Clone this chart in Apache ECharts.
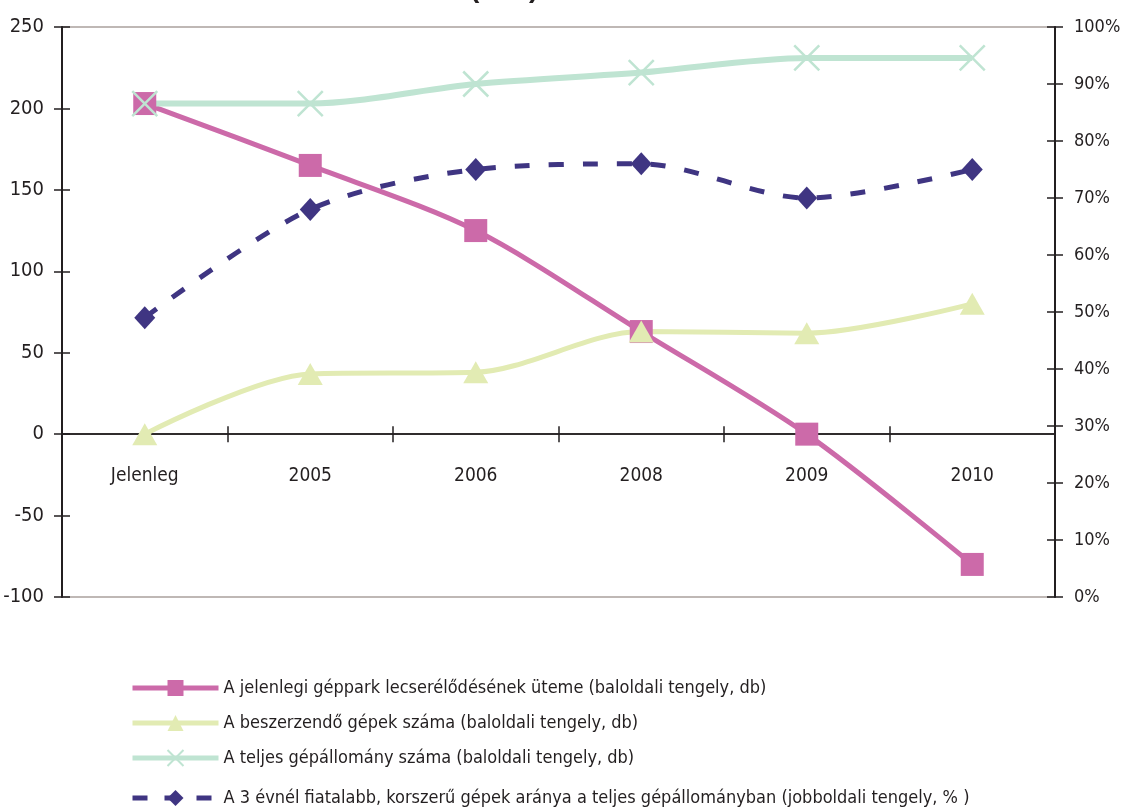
<!DOCTYPE html>
<html>
<head>
<meta charset="utf-8">
<script src="https://cdn.jsdelivr.net/npm/echarts@6/dist/echarts.min.js"></script>
<style>
  html, body { margin: 0; padding: 0; background: #ffffff; }
  #chart { width: 1124px; height: 809px; }
</style>
</head>
<body>
<div id="chart"></div>
<script>
// Categories and series values
const categories = ['Jelenleg', '2005', '2006', '2008', '2009', '2010'];
const replacementPace = [203, 165, 125, 63, 0, -80];     // baloldali tengely, db
const machinesToBuy = [0, 37, 38, 63, 62, 80];            // baloldali tengely, db
const totalFleet = [203, 203, 215, 222, 231, 231];        // baloldali tengely, db
const modernShare = [49, 68, 75, 76, 70, 75];             // jobboldali tengely, %

const seriesNames = [
  'A jelenlegi géppark lecserélődésének üteme (baloldali tengely, db)',
  'A beszerzendő gépek száma (baloldali tengely, db)',
  'A teljes gépállomány száma (baloldali tengely, db)',
  'A 3 évnél fiatalabb, korszerű gépek aránya a teljes gépállományban (jobboldali tengely, % )'
];

const FONT = "'DejaVu Sans Condensed', 'Liberation Sans Narrow', sans-serif";
const TXT = '#231f20';
const AXIS = '#231f20';

const chart = echarts.init(document.getElementById('chart'));

const leftAxisBase = { type: 'value', min: -100, max: 250, interval: 50, position: 'left' };
const rightAxisBase = { type: 'value', min: 0, max: 100, interval: 10, position: 'right' };

function legendAt(top, name, dashed) {
  return {
    orient: 'vertical', left: 130, top: top, padding: 0,
    itemWidth: 86, itemHeight: 20, itemGap: 0,
    data: [name],
    lineStyle: { width: 5, type: dashed ? [15, 17] : 'solid' },
    textStyle: { fontFamily: FONT, fontSize: 18, color: TXT },
    selectedMode: false
  };
}

chart.setOption({
  animation: false,
  backgroundColor: '#ffffff',
  graphic: [{
    type: 'text', left: 470, top: -25,
    style: { text: '( db )', font: "bold 28px 'Liberation Sans', sans-serif", fill: TXT }
  }],
  grid: {
    left: 62, right: 69, top: 27, bottom: 212,
    outerBoundsMode: 'none', containLabel: false,
    show: true, borderColor: '#aaa19d', borderWidth: 1.5, backgroundColor: 'transparent'
  },
  legend: [
    legendAt(679, seriesNames[0], false),
    legendAt(714, seriesNames[1], false),
    legendAt(749, seriesNames[2], false),
    legendAt(789, seriesNames[3], true)
  ],
  xAxis: [{
    type: 'category', data: categories, boundaryGap: true,
    axisLine: { onZero: true, onZeroAxisIndex: 0, lineStyle: { color: AXIS, width: 1.5 } },
    axisTick: { show: true, inside: false, length: 8, lineStyle: { color: AXIS, width: 1.5 } },
    axisLabel: { margin: 32, fontFamily: FONT, fontSize: 19, color: TXT },
    splitLine: { show: false }
  }, {
    type: 'category', data: categories, boundaryGap: true, position: 'bottom',
    axisLine: { onZero: true, onZeroAxisIndex: 0, lineStyle: { color: AXIS, width: 1.5 } },
    axisTick: { show: true, inside: true, length: 8, lineStyle: { color: AXIS, width: 1.5 } },
    axisLabel: { show: false },
    splitLine: { show: false }
  }],
  yAxis: [
    Object.assign({}, leftAxisBase, {
      axisLine: { show: true, lineStyle: { color: AXIS, width: 2 } },
      axisTick: { show: true, length: 8, lineStyle: { color: AXIS, width: 1.5 } },
      axisLabel: { margin: 18, fontFamily: FONT, fontSize: 20, color: TXT },
      splitLine: { show: false }
    }),
    Object.assign({}, rightAxisBase, {
      axisLine: { show: true, lineStyle: { color: AXIS, width: 2 } },
      axisTick: { show: true, length: 8, lineStyle: { color: AXIS, width: 1.5 } },
      axisLabel: { margin: 19, fontFamily: FONT, fontSize: 18, color: TXT, formatter: '{value}%' },
      splitLine: { show: false }
    }),
    Object.assign({}, leftAxisBase, {
      axisLine: { show: false },
      axisTick: { show: true, inside: true, length: 8, lineStyle: { color: AXIS, width: 1.5 } },
      axisLabel: { show: false }, splitLine: { show: false }
    }),
    Object.assign({}, rightAxisBase, {
      axisLine: { show: false },
      axisTick: { show: true, inside: true, length: 8, lineStyle: { color: AXIS, width: 1.5 } },
      axisLabel: { show: false }, splitLine: { show: false }
    })
  ],
  series: [
    {
      name: seriesNames[0], type: 'line', yAxisIndex: 0, data: replacementPace,
      smooth: 0.3, symbol: 'rect', symbolSize: 23,
      itemStyle: { color: '#cc6aa9' }, lineStyle: { color: '#cc6aa9', width: 5 }
    },
    {
      name: seriesNames[1], type: 'line', yAxisIndex: 0, data: machinesToBuy,
      smooth: 0.3, symbol: 'triangle', symbolSize: [25, 22],
      itemStyle: { color: '#e2ebb3' }, lineStyle: { color: '#e2ebb3', width: 5 }
    },
    {
      name: seriesNames[2], type: 'line', yAxisIndex: 0, data: totalFleet,
      smooth: 0.3,
      symbol: 'path://M0,0 L1,1 M1,0 L0,1', symbolSize: 25,
      itemStyle: { color: 'transparent', borderColor: '#bfe4d2', borderWidth: 2.5 },
      lineStyle: { color: '#bfe4d2', width: 6 }
    },
    {
      name: seriesNames[3], type: 'line', yAxisIndex: 1, data: modernShare,
      smooth: 0.3, symbol: 'diamond', symbolSize: [21, 23],
      itemStyle: { color: '#3f3582' },
      lineStyle: { color: '#3f3582', width: 5, type: [15, 19] }
    }
  ]
});

// Category labels sit just under the zero line: shift them up from the grid bottom
const zeroY = chart.convertToPixel({ yAxisIndex: 0 }, 0);
const bottomY = chart.convertToPixel({ yAxisIndex: 0 }, leftAxisBase.min);
chart.setOption({
  xAxis: [{ axisLabel: { margin: 32 - (bottomY - zeroY) } }, {}]
});
</script>
</body>
</html>
